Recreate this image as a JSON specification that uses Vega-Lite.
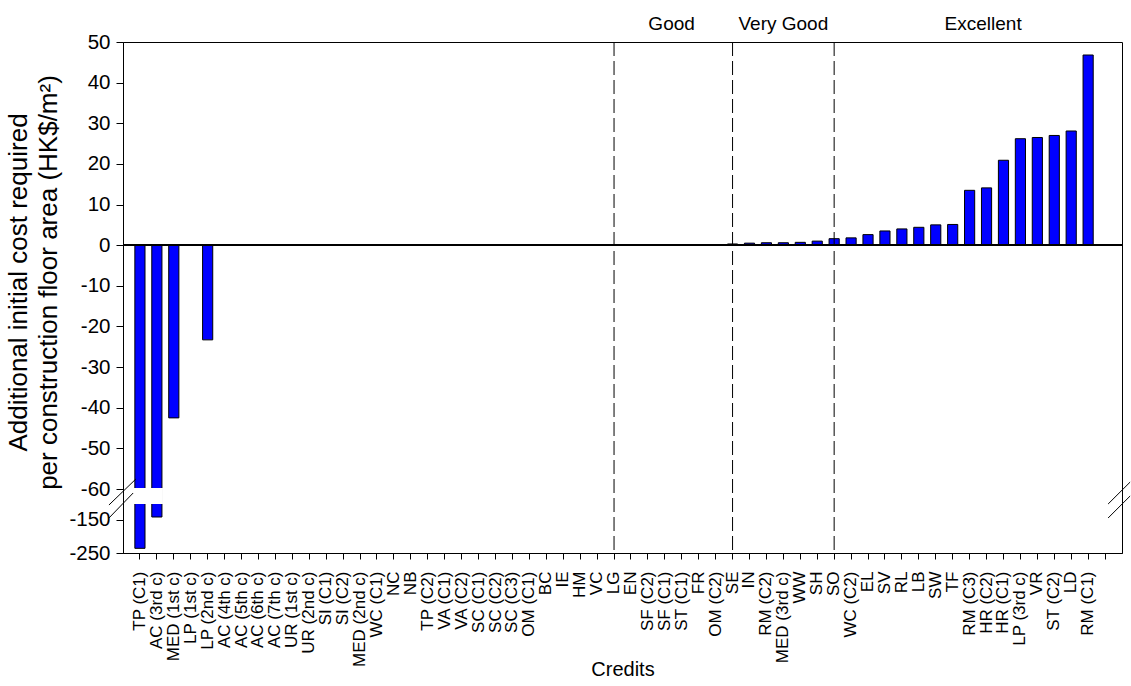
{
  "$schema": "https://vega.github.io/schema/vega-lite/v6.json",
  "width": 999,
  "height": 511,
  "autosize": {"type": "none"},
  "padding": {"left": 123, "top": 42, "right": 9, "bottom": 133},
  "background": "white",
  "config": {
    "font": "Liberation Sans",
    "view": {"stroke": "black", "strokeWidth": 1},
    "axis": {"grid": false, "domainColor": "black", "tickColor": "black", "labelColor": "black", "titleColor": "black", "titleFontWeight": "normal", "domainWidth": 1, "tickWidth": 1, "labelOverlap": false},
    "axisX": {"labelAngle": -90, "labelFontSize": 17, "tickSize": 6, "labelPadding": 12, "titleFontSize": 20, "titlePadding": -7, "labelOverlap": false, "labelBound": false},
    "axisY": {"labelFontSize": 20.5, "tickSize": 7, "labelPadding": 6, "titleFontSize": 26, "titleLineHeight": 30, "titlePadding": 7, "labelOverlap": false, "titleY": 240}
  },
  "layer": [
    {
      "data": {"values": [
        {"credit": "TP (C1)", "value": -236},
        {"credit": "AC (3rd c)", "value": -142},
        {"credit": "MED (1st c)", "value": -42.5},
        {"credit": "LP (1st c)", "value": 0},
        {"credit": "LP (2nd c)", "value": -23.3},
        {"credit": "AC (4th c)", "value": 0},
        {"credit": "AC (5th c)", "value": 0},
        {"credit": "AC (6th c)", "value": 0},
        {"credit": "AC (7th c)", "value": 0},
        {"credit": "UR (1st c)", "value": 0},
        {"credit": "UR (2nd c)", "value": 0},
        {"credit": "SI (C1)", "value": 0},
        {"credit": "SI (C2)", "value": 0},
        {"credit": "MED (2nd c)", "value": 0},
        {"credit": "WC (C1)", "value": 0},
        {"credit": "NC", "value": 0},
        {"credit": "NB", "value": 0},
        {"credit": "TP (C2)", "value": 0},
        {"credit": "VA (C1)", "value": 0},
        {"credit": "VA (C2)", "value": 0},
        {"credit": "SC (C1)", "value": 0},
        {"credit": "SC (C2)", "value": 0},
        {"credit": "SC (C3)", "value": 0},
        {"credit": "OM (C1)", "value": 0},
        {"credit": "BC", "value": 0},
        {"credit": "IE", "value": 0},
        {"credit": "HM", "value": 0},
        {"credit": "VC", "value": 0},
        {"credit": "LG", "value": 0},
        {"credit": "EN", "value": 0},
        {"credit": "SF (C2)", "value": 0.02},
        {"credit": "SF (C1)", "value": 0.05},
        {"credit": "ST (C1)", "value": 0.1},
        {"credit": "FR", "value": 0.12},
        {"credit": "OM (C2)", "value": 0.15},
        {"credit": "SE", "value": 0.3},
        {"credit": "IN", "value": 0.5},
        {"credit": "RM (C2)", "value": 0.6},
        {"credit": "MED (3rd c)", "value": 0.6},
        {"credit": "WW", "value": 0.7},
        {"credit": "SH", "value": 1.0},
        {"credit": "SO", "value": 1.6},
        {"credit": "WC (C2)", "value": 1.8},
        {"credit": "EL", "value": 2.6},
        {"credit": "SV", "value": 3.5},
        {"credit": "RL", "value": 4.0},
        {"credit": "LB", "value": 4.4},
        {"credit": "SW", "value": 5.0},
        {"credit": "TF", "value": 5.1},
        {"credit": "RM (C3)", "value": 13.5},
        {"credit": "HR (C2)", "value": 14.1},
        {"credit": "HR (C1)", "value": 20.9},
        {"credit": "LP (3rd c)", "value": 26.2},
        {"credit": "VR", "value": 26.5},
        {"credit": "ST (C2)", "value": 27.0},
        {"credit": "LD", "value": 28.1},
        {"credit": "RM (C1)", "value": 46.8}
      ]},
      "layer": [
        {
          "mark": {"type": "bar", "fill": "#0000ff", "stroke": "black", "strokeWidth": 1},
          "encoding": {
            "x": {
              "field": "credit", "type": "nominal", "sort": null,
              "scale": {"domain": ["TP (C1)","AC (3rd c)","MED (1st c)","LP (1st c)","LP (2nd c)","AC (4th c)","AC (5th c)","AC (6th c)","AC (7th c)","UR (1st c)","UR (2nd c)","SI (C1)","SI (C2)","MED (2nd c)","WC (C1)","NC","NB","TP (C2)","VA (C1)","VA (C2)","SC (C1)","SC (C2)","SC (C3)","OM (C1)","BC","IE","HM","VC","LG","EN","SF (C2)","SF (C1)","ST (C1)","FR","OM (C2)","SE","IN","RM (C2)","MED (3rd c)","WW","SH","SO","WC (C2)","EL","SV","RL","LB","SW","TF","RM (C3)","HR (C2)","HR (C1)","LP (3rd c)","VR","ST (C2)","LD","RM (C1)","(blank)"], "paddingInner": 0.4, "paddingOuter": 0.7},
              "axis": {"title": "Credits", "labelExpr": "datum.value == '(blank)' ? '' : datum.value"}
            },
            "y": {
              "field": "value", "type": "quantitative",
              "scale": {"domain": [-250, -100, -60, 50], "range": [511, 461, 447, 0], "nice": false, "zero": false},
              "axis": {"title": ["Additional initial cost required", "per construction floor area (HK$/m²)"], "values": [-250, -150, -60, -50, -40, -30, -20, -10, 0, 10, 20, 30, 40, 50], "tickCount": 30, "labelExpr": "'' + datum.value", "labelOverlap": false, "titleY": 240}
            },
            "y2": {"datum": 0}
          }
        },
        {
          "transform": [{"filter": "datum.value < -100"}],
          "mark": {"type": "bar", "fill": "white", "stroke": "white", "strokeWidth": 2},
          "encoding": {
            "x": {"field": "credit", "type": "nominal", "sort": null},
            "y": {"datum": -100, "type": "quantitative"},
            "y2": {"datum": -60}
          }
        },
        {
          "mark": {"type": "rule", "color": "black", "strokeWidth": 1},
          "encoding": {"y": {"datum": 0, "type": "quantitative"}}
        },
        {
          "transform": [{"filter": "indexof(['LG', 'SE', 'SO'], datum.credit) >= 0"}],
          "mark": {"type": "rule", "color": "black", "strokeWidth": 1, "strokeDash": [14, 5]},
          "encoding": {"x": {"field": "credit", "type": "nominal", "sort": null}}
        }
      ]
    },
    {
      "data": {"values": [
        {"x1": -0.83, "y1": -106, "x2": 0.77, "y2": -57.5},
        {"x1": -0.83, "y1": -145, "x2": 0.6, "y2": -71.4},
        {"x1": 58.18, "y1": -103, "x2": 59.48, "y2": -58.3},
        {"x1": 58.18, "y1": -145, "x2": 59.48, "y2": -80}
      ]},
      "mark": {"type": "rule", "color": "black", "strokeWidth": 1, "clip": false},
      "encoding": {
        "x": {"field": "x1", "type": "quantitative", "scale": {"domain": [0, 59], "nice": false, "zero": false}, "axis": null},
        "x2": {"field": "x2"},
        "y": {"field": "y1", "type": "quantitative"},
        "y2": {"field": "y2"}
      }
    },
    {
      "data": {"values": [
        {"label": "Good", "pos": 32.4},
        {"label": "Very Good", "pos": 39.0},
        {"label": "Excellent", "pos": 50.8}
      ]},
      "mark": {"type": "text", "fontSize": 19, "color": "black", "baseline": "alphabetic", "align": "center", "dy": -12, "clip": false},
      "encoding": {
        "x": {"field": "pos", "type": "quantitative", "scale": {"domain": [0, 59], "nice": false, "zero": false}, "axis": null},
        "y": {"datum": 50, "type": "quantitative"},
        "text": {"field": "label"}
      }
    }
  ],
  "resolve": {"scale": {"x": "independent"}}
}
